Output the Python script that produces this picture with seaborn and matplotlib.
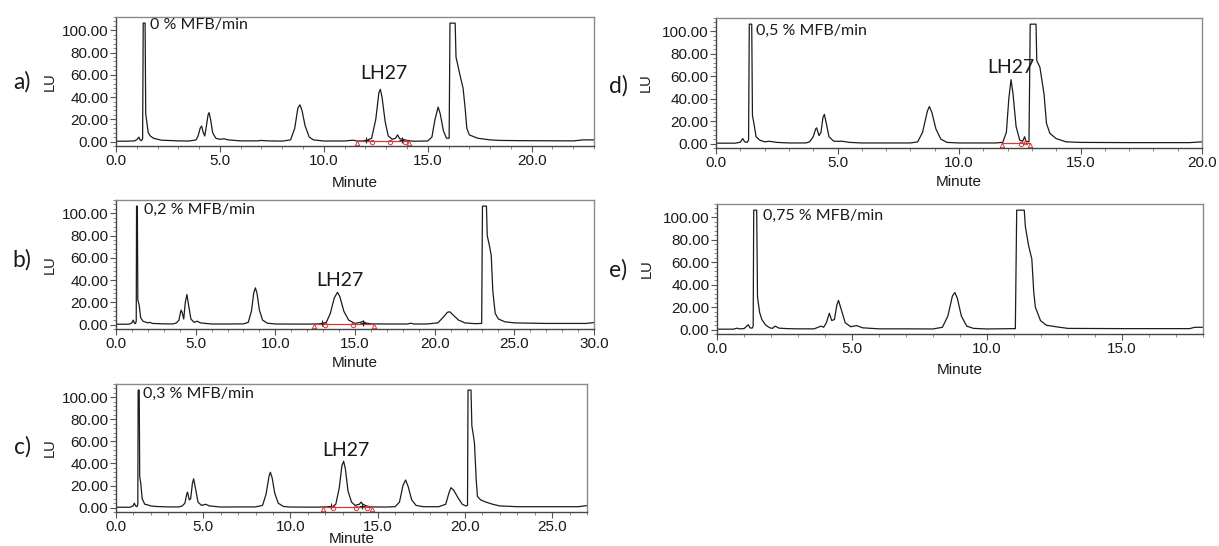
import matplotlib
matplotlib.use("Agg")
import matplotlib.pyplot as plt
from matplotlib.ticker import MultipleLocator, FormatStrFormatter
import pandas as pd
import seaborn as sns

# ---------------- data ----------------
a_time = [0.0, 0.5, 0.9, 1.02, 1.1, 1.16, 1.22, 1.28, 1.31, 1.40,
          1.43, 1.48, 1.55, 1.65, 1.8, 2.0, 2.2, 2.5, 3.0, 3.5,
          3.7, 3.85, 3.95, 4.05, 4.12, 4.2, 4.27, 4.35, 4.43, 4.48,
          4.55, 4.65, 4.8, 5.0, 5.2, 5.4, 6.0, 6.8, 7.0, 7.3,
          8.0, 8.4, 8.6, 8.75, 8.85, 8.95, 9.1, 9.3, 9.5, 10.0,
          11.0, 11.4, 11.6, 12.0, 12.3, 12.5, 12.65, 12.72, 12.8, 12.95,
          13.1, 13.3, 13.45, 13.55, 13.65, 13.8, 14.0, 14.3, 15.0, 15.2,
          15.35, 15.5, 15.6, 15.75, 15.9, 16.03, 16.07, 16.32, 16.36, 16.55,
          16.7, 16.8, 16.88, 17.0, 17.4, 18.0, 18.5, 19.5, 22.0, 22.5,
          23.0]
a_lu = [0.3, 0.3, 0.6, 2.0, 4.0, 1.5, 0.8, 2.5, 106.5, 106.5,
        25, 18, 8, 5, 3, 2, 1.2, 1.0, 0.6, 0.5,
        1.0, 1.5, 5, 12, 14, 8, 5, 14, 24, 26,
        20, 8, 3, 2, 2.5, 1.5, 0.6, 0.6, 1.0, 0.6,
        0.4, 1.5, 12, 30, 33, 28, 14, 4, 1.5, 0.5,
        0.5, 1.2, 0.5, 0.5, 3, 20, 44, 47, 40, 18,
        5, 2, 3, 6, 2.5, 2, 1, 0.3, 0.5, 4,
        20, 31, 25, 10, 3, 3, 106.5, 106.5, 76, 60,
        48, 30, 12, 6, 3, 1.5, 1.0, 0.8, 0.6, 1.5,
        1.5]

b_time = [0.0, 0.8, 1.0, 1.08, 1.15, 1.22, 1.27, 1.29, 1.34, 1.37,
          1.45, 1.55, 1.7, 2.0, 2.1, 2.3, 3.0, 3.6, 3.8, 3.95,
          4.08, 4.15, 4.25, 4.35, 4.45, 4.55, 4.7, 4.9, 5.1, 5.3,
          6.0, 7.0, 8.0, 8.3, 8.5, 8.65, 8.75, 8.85, 9.0, 9.2,
          9.5, 10.0, 12.0, 12.8, 13.2, 13.45, 13.7, 13.9, 14.05, 14.3,
          14.6, 15.0, 15.35, 15.5, 15.65, 16.0, 17.0, 18.3, 18.5, 18.7,
          19.5, 20.2, 20.5, 20.8, 20.95, 21.2, 21.5, 21.9, 22.5, 22.95,
          23.0, 23.25, 23.3, 23.45, 23.55, 23.65, 23.8, 24.0, 24.4, 25.0,
          27.0, 29.5, 30.0]
b_lu = [0.3, 0.3, 1.5, 4, 1.5, 0.8, 3, 106.5, 106.5, 22,
        18, 6, 3, 1.5, 2, 1, 0.6, 0.6, 1.5, 4,
        13, 11, 5, 20, 27, 18, 5, 2, 3, 1.5,
        0.5, 0.5, 0.6, 2, 12, 29, 33, 28, 13, 4,
        1.2, 0.5, 0.4, 0.6, 2, 10, 24, 29, 25, 12,
        4, 1, 2, 3, 1.5, 0.6, 0.5, 0.5, 1.2, 0.5,
        0.5, 1.5, 6, 11, 11.5, 8, 4, 1.5, 0.8, 1,
        106.5, 106.5, 80, 70, 62, 30, 10, 5, 2.5, 1.5,
        1.0, 1.0, 1.8]

c_time = [0.0, 0.8, 0.98, 1.05, 1.12, 1.2, 1.25, 1.27, 1.33, 1.36,
          1.42, 1.5, 1.65, 1.8, 2.0, 2.3, 3.0, 3.6, 3.8, 3.95,
          4.05, 4.1, 4.2, 4.28, 4.38, 4.45, 4.55, 4.7, 4.9, 5.15,
          5.35, 6.0, 7.0, 8.0, 8.4, 8.6, 8.78, 8.85, 8.95, 9.1,
          9.3, 9.6, 10.0, 11.5, 12.4, 12.6, 12.8, 12.95, 13.05, 13.15,
          13.3, 13.5, 13.7, 13.95, 14.05, 14.15, 14.35, 14.6, 15.5, 16.0,
          16.25, 16.45, 16.6, 16.75, 16.95, 17.2, 17.6, 18.5, 18.9, 19.1,
          19.2, 19.35, 19.6, 19.85, 20.05, 20.15, 20.18, 20.35, 20.4, 20.5,
          20.55, 20.65, 20.72, 20.9, 21.2, 21.6, 22.0, 23.0, 26.5, 27.0]
c_lu = [0.3, 0.3, 1.5, 4, 1.5, 0.8, 3, 106.5, 106.5, 28,
        22, 8, 3, 2.5, 1.5, 1, 0.6, 0.6, 1.5, 4,
        12, 14, 7, 8, 22, 26, 18, 5, 2, 3,
        1.5, 0.5, 0.6, 0.6, 2, 12, 29, 32, 27, 13,
        4, 1, 0.5, 0.4, 0.8, 3, 18, 38, 42, 35,
        15, 5, 2, 3, 5, 3, 1.5, 0.6, 0.5, 0.8,
        5, 20, 25, 19, 7, 2, 0.8, 0.8, 3, 14,
        18, 16, 9, 3, 1.5, 2, 106.5, 106.5, 74, 64,
        58, 25, 10, 7, 5, 3, 1.5, 0.8, 0.8, 1.8]

d_time = [0.0, 0.8, 1.0, 1.1, 1.18, 1.28, 1.34, 1.37, 1.47, 1.5,
          1.56, 1.65, 1.8, 2.0, 2.2, 2.5, 3.0, 3.7, 3.85, 4.0,
          4.1, 4.14, 4.24, 4.32, 4.4, 4.46, 4.54, 4.65, 4.85, 5.2,
          5.5, 6.0, 7.0, 8.0, 8.3, 8.5, 8.7, 8.78, 8.88, 9.05,
          9.25, 9.5, 10.0, 11.5, 11.8, 11.95, 12.05, 12.14, 12.22, 12.35,
          12.5, 12.62, 12.7, 12.76, 12.88, 12.93, 13.17, 13.2, 13.33, 13.5,
          13.6, 13.74, 14.0, 14.4, 15.0, 17.0, 19.5, 20.0]
d_lu = [0.3, 0.3, 1.2, 4.4, 1.5, 1.0, 3, 106.5, 106.5, 25,
        18, 6, 3, 1.5, 2, 1, 0.5, 0.5, 1.5, 6,
        13, 14, 7, 10, 23, 26, 18, 6, 2, 2,
        1, 0.5, 0.5, 0.5, 1.5, 10, 29, 33, 28, 13,
        4, 1, 0.5, 0.5, 1, 10, 40, 57, 45, 15,
        3, 2, 6, 2, 1.5, 106.5, 106.5, 74, 68, 44,
        18, 9, 4.4, 1.5, 1, 0.8, 0.8, 1.5]

e_time = [0.0, 0.6, 0.75, 0.82, 1.0, 1.1, 1.16, 1.22, 1.3, 1.34,
          1.36, 1.47, 1.5, 1.58, 1.66, 1.8, 1.96, 2.05, 2.15, 2.3,
          2.6, 3.0, 3.6, 3.85, 3.95, 4.05, 4.16, 4.25, 4.35, 4.44,
          4.5, 4.6, 4.75, 4.95, 5.17, 5.4, 6.0, 7.0, 8.0, 8.35,
          8.55, 8.72, 8.81, 8.9, 9.05, 9.25, 9.5, 10.0, 11.05, 11.1,
          11.38, 11.42, 11.54, 11.66, 11.73, 11.79, 11.98, 12.2, 12.6, 13.0,
          15.0, 17.5, 17.7, 18.0]
e_lu = [0.3, 0.3, 1.2, 0.6, 0.8, 3, 4.3, 1.5, 1.2, 3,
        106.5, 106.5, 29, 15, 9, 4, 1.5, 1, 3, 1.2,
        0.8, 0.6, 0.6, 3, 2, 6, 14.5, 8, 9, 22,
        26, 18, 6, 2.5, 3.5, 1.5, 0.6, 0.6, 0.5, 2,
        12, 30, 33, 28, 12, 3, 1, 0.5, 0.8, 106.5,
        106.5, 92, 75, 63, 34, 20, 8, 3.8, 2.3, 1,
        0.8, 0.8, 2, 2]

# integration marks (red)
a_int_time = [11.6, 12.05, 12.3, 13.2, 13.75, 13.9, 14.1]
a_int_lu = [-1.5, 1.0, -0.5, -0.5, 1.0, -0.5, -1.5]
a_int_mark = ['^', '+', 'o', 'o', '+', 'o', '^']
b_int_time = [12.4, 12.9, 13.1, 14.9, 15.5, 16.2]
b_int_lu = [-1.5, 1.0, -0.5, -0.5, 1.0, -1.5]
b_int_mark = ['^', '+', 'o', 'o', '+', '^']
c_int_time = [11.85, 12.3, 12.45, 13.75, 14.1, 14.4, 14.7]
c_int_lu = [-1.5, 1.0, -0.5, -0.5, 1.0, -0.5, -1.5]
c_int_mark = ['^', '+', 'o', 'o', '+', 'o', '^']
d_int_time = [11.76, 12.55, 12.7, 12.93]
d_int_lu = [-1.5, -0.5, 1.5, -1.5]
d_int_mark = ['^', 'o', '^', '^']
int_base_lu = [0.4, 0.4]

panel_letters = ['a)', 'b)', 'c)', 'd)', 'e)']
rate_labels = ['0 % MFB/min', '0,2 % MFB/min', '0,3 % MFB/min',
               '0,5 % MFB/min', '0,75 % MFB/min']
rate_pos = [(1.63, 105), (1.78, 103), (1.57, 103), (1.63, 100.5), (1.71, 101)]
peak_label = 'LH27'
peak_pos = [(12.87, 61), (14.05, 40), (13.15, 52), (12.15, 68), None]
x_max = [23, 30, 27, 20, 18]
y_ticks = [0, 20, 40, 60, 80, 100]

# ---------------- styling / layout ----------------
sns.set_theme(style="white")
plt.rcParams['font.family'] = ['Liberation Sans', 'DejaVu Sans']
ANN_FONT = ['Lato', 'DejaVu Sans']

W, H = 1219, 546
fig = plt.figure(figsize=(W / 100, H / 100), dpi=100)

def rect(l, t, r, b):
    return [l / W, 1 - b / H, (r - l) / W, (b - t) / H]

rects = [rect(116, 17, 594, 146), rect(116, 200, 594, 329), rect(116, 384, 587, 512),
         rect(716, 18, 1202, 148), rect(717, 204, 1203, 334)]
letter_pos = [(22, 82), (22, 260), (22, 447), (618, 86), (618, 270)]
xlabel_pad = [6, 4, -1.5, 4, 5]

traces = [(a_time, a_lu), (b_time, b_lu), (c_time, c_lu), (d_time, d_lu), (e_time, e_lu)]
integr = [(a_int_time, a_int_lu, a_int_mark), (b_int_time, b_int_lu, b_int_mark),
          (c_int_time, c_int_lu, c_int_mark), (d_int_time, d_int_lu, d_int_mark), None]

RED = '#d23a3a'
for i in range(5):
    ax = fig.add_axes(rects[i])
    t, y = traces[i]
    df = pd.DataFrame({'Minute': t, 'LU': y})
    sns.lineplot(data=df, x='Minute', y='LU', ax=ax, color='#1c1c1c', lw=0.9,
                 sort=False, estimator=None)
    if integr[i] is not None:
        it, iy, im = integr[i]
        sns.lineplot(x=[it[0], it[-1]], y=int_base_lu, ax=ax, color=RED, lw=0.9,
                     sort=False, estimator=None)
        for tt, yy, mm in zip(it, iy, im):
            if mm == '+':
                ax.plot([tt], [yy], marker='+', ms=5, mew=0.8, color='#222222')
            else:
                ax.plot([tt], [yy], marker=mm, ms=3.2, mew=0.7, mfc='none', mec=RED)
    ax.set_xlim(0, x_max[i])
    ax.set_ylim(-4, 112)
    ax.set_yticks(y_ticks)
    ax.xaxis.set_major_locator(MultipleLocator(5))
    ax.xaxis.set_minor_locator(MultipleLocator(1))
    ax.yaxis.set_minor_locator(MultipleLocator(4))
    ax.xaxis.set_major_formatter(FormatStrFormatter('%.1f'))
    ax.yaxis.set_major_formatter(FormatStrFormatter('%.2f'))
    ax.tick_params(axis='both', which='major', direction='out', length=4, width=0.8,
                   color='#555555', labelsize=11, labelcolor='#1a1a1a', pad=1.5)
    ax.tick_params(axis='both', which='minor', direction='out', length=2, width=0.6,
                   color='#777777')
    ax.tick_params(bottom=True, left=True, which='both')
    for side in ['left', 'bottom']:
        ax.spines[side].set_color('#444444')
        ax.spines[side].set_linewidth(1.0)
    for side in ['top', 'right']:
        ax.spines[side].set_color('#8a8a8a')
        ax.spines[side].set_linewidth(1.0)
    ax.set_xlabel('Minute', fontsize=11, labelpad=xlabel_pad[i], color='#1a1a1a')
    ax.set_ylabel('LU', fontsize=10.5, color='#1a1a1a')
    ax.yaxis.set_label_coords(((57 - 116) if i < 3 else (653 - 716)) / (rects[i][2] * W), 0.5)
    rx, ry = rate_pos[i]
    ax.text(rx, ry, rate_labels[i], fontsize=11.5, family=ANN_FONT, ha='left', va='center',
            color='#1a1a1a')
    if peak_pos[i] is not None:
        px, py = peak_pos[i]
        ax.text(px, py, peak_label, fontsize=14, family=ANN_FONT, ha='center', va='center',
                color='#1a1a1a')
    lx, ly = letter_pos[i]
    fig.text(lx / W, 1 - ly / H, panel_letters[i], fontsize=16.5, family=ANN_FONT,
             ha='center', va='center', color='#1a1a1a')

fig.savefig('out.png', dpi=100, facecolor='white')
